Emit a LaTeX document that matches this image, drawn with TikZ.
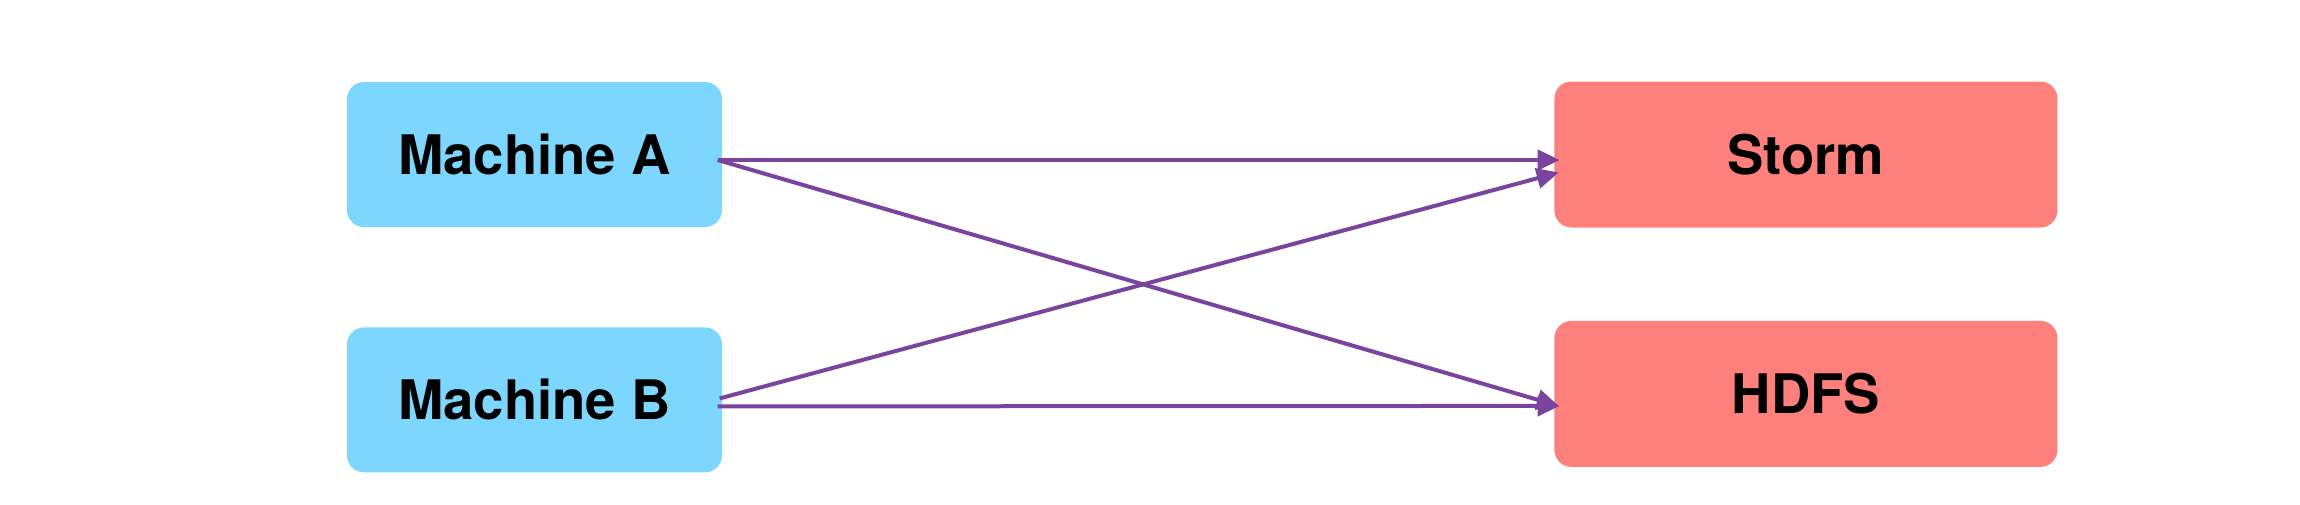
\documentclass[tikz,border=0pt]{standalone}
\usepackage{fontspec}
\setmainfont{TeX Gyre Heros}
\usetikzlibrary{arrows.meta,positioning}

\definecolor{machineblue}{HTML}{7DD6FD}
\definecolor{sinkred}{HTML}{FE807C}
\definecolor{flowpurple}{HTML}{7A449E}

\begin{document}
\begin{tikzpicture}[
    node distance=0.99cm,
    machine/.style={rectangle, fill=machineblue, rounded corners=0.17cm, minimum width=3.75cm, minimum height=1.45cm, font=\fontsize{15.5}{18}\selectfont\bfseries},
    sink/.style={rectangle, fill=sinkred, rounded corners=0.17cm, minimum width=5.03cm, minimum height=1.46cm, font=\fontsize{15.5}{18}\selectfont\bfseries},
    arrow/.style={-{Triangle[length=0.22cm, width=0.2cm]}, line width=0.04cm, draw=flowpurple, fill=flowpurple}
]
\useasboundingbox (0,0) rectangle (23,5.04);

% Nodes
\node[machine] (ma) at (5.345,3.495) {Machine A};
\node[machine, below=of ma] (mb) {Machine B};

\node[sink, right=8.31cm of ma] (storm) {Storm};
\node[sink, below=0.92cm of storm] (hdfs) {HDFS};

% Arrows
\draw[arrow] ([xshift=-0.05cm, yshift=-0.055cm]ma.east) -- ([xshift=0.06cm, yshift=-0.055cm]storm.west);
\draw[arrow] ([xshift=-0.05cm, yshift=-0.055cm]ma.east) -- ([xshift=0.05cm, yshift=-0.12cm]hdfs.west);
\draw[arrow] ([xshift=-0.03cm, yshift=0.015cm]mb.east) -- ([xshift=0.05cm, yshift=-0.18cm]storm.west);
\draw[arrow] ([xshift=-0.05cm, yshift=-0.065cm]mb.east) -- ([xshift=0.06cm, yshift=-0.12cm]hdfs.west);

\end{tikzpicture}
\end{document}
